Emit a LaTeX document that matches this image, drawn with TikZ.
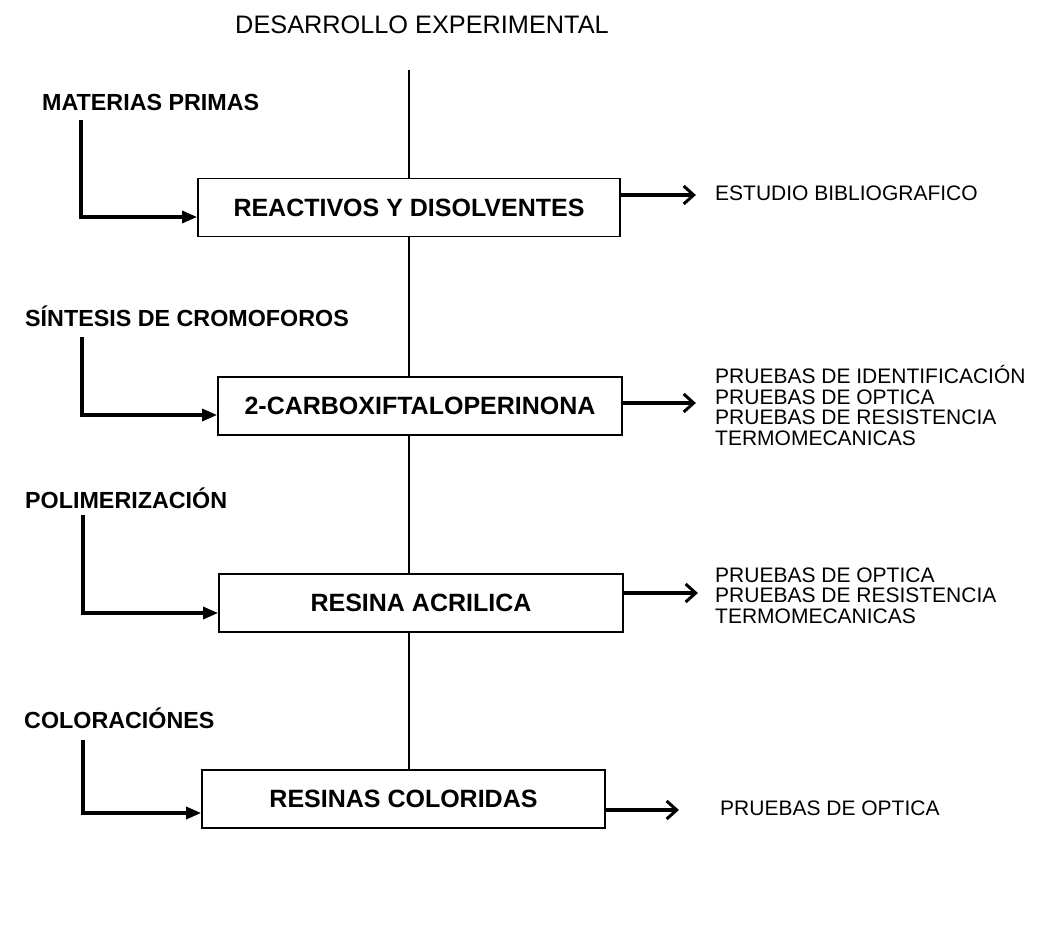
\documentclass[tikz,border=0pt]{standalone}
\usepackage{fontspec}
\setmainfont{Liberation Sans}
\usetikzlibrary{arrows.meta}
\begin{document}
\begin{tikzpicture}[x=1pt,y=-1pt,
  box/.style={draw,line width=1.8pt,minimum height=58pt,inner sep=0pt,font=\fontsize{25}{29}\selectfont\bfseries},
  lab/.style={anchor=base west,inner sep=0pt,font=\fontsize{23.3}{27}\selectfont\bfseries},
  res/.style={anchor=base west,inner sep=0pt,align=left,font=\fontsize{21}{20.5}\selectfont},
  larrow/.style={line width=3.2pt,-{Triangle[length=15pt,width=12pt]}},
  rarrow/.style={line width=3.4pt,-{Straight Barb[length=10pt,width=18pt,line width=3pt]}},
  axis/.style={line width=1.4pt}]
\useasboundingbox (0,0) rectangle (1037,948);
\node[anchor=base,inner sep=0pt,font=\fontsize{25.3}{30}\selectfont] (title) at (422,33) {DESARROLLO EXPERIMENTAL};
\coordinate (top) at (409,70);
% boxes
\node[box,minimum width=422pt] (b1) at (409,207.5) {REACTIVOS Y DISOLVENTES};
\node[box,minimum width=404pt] (b2) at (420,406) {2-CARBOXIFTALOPERINONA};
\node[box,minimum width=404pt] (b3) at (421,603) {RESINA ACRILICA};
\node[box,minimum width=403pt] (b4) at (403.5,799) {RESINAS COLORIDAS};
% centre line
\draw[axis] (top) -- (top |- b1.north);
\draw[axis] (top |- b1.south) -- (top |- b2.north);
\draw[axis] (top |- b2.south) -- (top |- b3.north);
\draw[axis] (top |- b3.south) -- (top |- b4.north);
% left labels
\node[lab] (l1) at (42,110) {MATERIAS PRIMAS};
\node[lab] (l2) at (25,326) {SÍNTESIS DE CROMOFOROS};
\node[lab] (l3) at (25,508) {POLIMERIZACIÓN};
\node[lab] (l4) at (24,728) {COLORACIÓNES};
\coordinate (s1) at (81,120);
\coordinate (s2) at (82,337);
\coordinate (s3) at (83,515);
\coordinate (s4) at (83,740);
\draw[larrow] (s1) |- ([yshift=-9.5pt]b1.west);
\draw[larrow] (s2) |- ([yshift=-9pt]b2.west);
\draw[larrow] (s3) |- ([yshift=-10pt]b3.west);
\draw[larrow] (s4) |- ([yshift=-14pt]b4.west);
% right texts (base = last line)
\node[res] (r1) at (715,200.5) {ESTUDIO BIBLIOGRAFICO};
\node[res] (r2) at (715,445) {PRUEBAS DE IDENTIFICACIÓN\\PRUEBAS DE OPTICA\\PRUEBAS DE RESISTENCIA\\TERMOMECANICAS};
\node[res] (r3) at (715,623) {PRUEBAS DE OPTICA\\PRUEBAS DE RESISTENCIA\\TERMOMECANICAS};
\node[res] (r4) at (720,815) {PRUEBAS DE OPTICA};
\draw[rarrow] ([yshift=12.5pt]b1.east) -- ++(75,0);
\draw[rarrow] ([yshift=3pt]b2.east) -- ++(73,0);
\draw[rarrow] ([yshift=10pt]b3.east) -- ++(74,0);
\draw[rarrow] ([yshift=-11pt]b4.east) -- ++(73,0);
\end{tikzpicture}
\end{document}
